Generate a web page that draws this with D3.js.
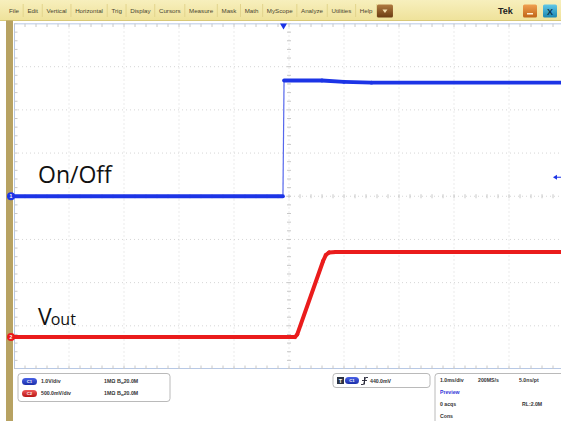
<!DOCTYPE html>
<html>
<head>
<meta charset="utf-8">
<script src="https://cdn.jsdelivr.net/npm/d3@7"></script>
<style>
body { margin: 0; background: #fff; }
svg { display: block; font-family: "Liberation Sans", Arial, sans-serif; }
.menuText { font-size: 6.2px; fill: #4a4530; }
.tekText { font-size: 9px; font-weight: bold; fill: #222; }
.grid { stroke: #d6d6d6; stroke-width: 1; stroke-dasharray: 1,3; }
.tick { stroke: #c8c8c8; stroke-width: 1; }
.label { font-family: "Open Sans", sans-serif; fill: #111; }
.info { font-size: 5.2px; font-weight: bold; }
.panel { fill: #fff; stroke: #a8a8a8; stroke-width: 0.8; }
</style>
</head>
<body>
<div id="scope"></div>
<script>
// menu bar entries
var menuItems = ["File", "Edit", "Vertical", "Horizontal", "Trig", "Display", "Cursors",
    "Measure", "Mask", "Math", "MyScope", "Analyze", "Utilities", "Help"];

// waveform samples: time in ms, level in volts
var ch1Time  = [-5, -0.11, -0.09, 0.6, 1.0, 1.5, 5];
var ch1Volts = [0, 0, 2.68, 2.68, 2.65, 2.63, 2.63];
var ch2Time  = [-5, 0.11, 0.15, 0.62, 0.67, 0.73, 0.85, 5];
var ch2Volts = [0, 0, 0.03, 0.88, 0.95, 0.98, 0.985, 0.985];

// channel settings
var channelNames = ["On/Off", "Vout"];
var channelColors = ["#1c34e6", "#ea1c1c"];
var channelVoltsPerDiv = [1.0, 0.5];
var channelOffsetDiv = [0, -3.26];
var channelScaleText = ["1.0V/div", "500.0mV/div"];
var channelImpedance = ["1MΩ", "1MΩ"];
var channelBandwidth = ["20.0M", "20.0M"];

// timebase / trigger
var msPerDiv = 1.0;
var triggerTime = -0.1;
var triggerLevel = 0.44;
var triggerText = "440.0mV";
var acqRows = [["1.0ms/div", "200MS/s", "5.0ns/pt"], ["Preview"], ["0 acqs", "RL:2.0M"], ["Cons"]];

function ScopeChart() {
    var self = this;
    self.init();
}

ScopeChart.prototype.init = function () {
    var self = this;
    self.width = 561;
    self.height = 421;
    self.plot = {left: 14, right: 564, top: 23.5, bottom: 369};

    self.svg = d3.select("#scope").append("svg")
        .attr("width", self.width)
        .attr("height", self.height);

    // scales in screen divisions
    self.xDiv = d3.scaleLinear().domain([-5, 5]).range([self.plot.left, self.plot.right]);
    self.yDiv = d3.scaleLinear().domain([-4, 4]).range([self.plot.bottom, self.plot.top]);
};

ScopeChart.prototype.drawMenu = function () {
    var self = this;
    var defs = self.svg.append("defs");
    var g1 = defs.append("linearGradient").attr("id", "menuGrad").attr("x1", 0).attr("x2", 0).attr("y1", 0).attr("y2", 1);
    g1.append("stop").attr("offset", 0).attr("stop-color", "#f7efbd");
    g1.append("stop").attr("offset", 1).attr("stop-color", "#efe29a");
    [["brownGrad", "#b07a40", "#6b3c12"], ["orangeGrad", "#f0a050", "#c06418"], ["tealGrad", "#60c8e8", "#1c86b0"],
     ["blueGrad", "#4a62e8", "#1a2ea8"], ["redGrad", "#f05a5a", "#b81414"]].forEach(function (c) {
        var g = defs.append("linearGradient").attr("id", c[0]).attr("x1", 0).attr("x2", 0).attr("y1", 0).attr("y2", 1);
        g.append("stop").attr("offset", 0).attr("stop-color", c[1]);
        g.append("stop").attr("offset", 1).attr("stop-color", c[2]);
    });
    defs.append("clipPath").attr("id", "plotClip").append("rect")
        .attr("x", self.plot.left).attr("y", self.plot.top)
        .attr("width", self.width - self.plot.left).attr("height", self.plot.bottom - self.plot.top);

    self.svg.append("rect").attr("x", 0).attr("y", 0).attr("width", self.width).attr("height", 20.5)
        .attr("fill", "url(#menuGrad)");
    self.svg.append("line").attr("x1", 0).attr("x2", self.width).attr("y1", 20.5).attr("y2", 20.5)
        .attr("stroke", "#d8c878");

    // menu items laid out one after another
    var x = 9;
    var menu = self.svg.append("g");
    menuItems.forEach(function (name) {
        var t = menu.append("text").attr("class", "menuText").attr("x", x).attr("y", 12.5).text(name);
        var w = t.node().getComputedTextLength();
        menu.append("line").attr("x1", x + w + 4.2).attr("x2", x + w + 4.2).attr("y1", 4).attr("y2", 17)
            .attr("stroke", "#e2d48c");
        x += w + 8.4;
    });
    // help drop button
    x = x - 4;
    menu.append("rect").attr("x", x).attr("y", 4.5).attr("width", 16).attr("height", 13).attr("rx", 1.5)
        .attr("fill", "url(#brownGrad)");
    menu.append("path").attr("d", "M" + (x + 5.5) + ",9.5 l5,0 l-2.5,3.5z").attr("fill", "#f4e0b0");

    self.svg.append("text").attr("class", "tekText").attr("x", 498).attr("y", 14).text("Tek");
    self.svg.append("rect").attr("x", 523).attr("y", 4.5).attr("width", 14).attr("height", 13).attr("rx", 1.5)
        .attr("fill", "url(#orangeGrad)");
    self.svg.append("rect").attr("x", 527).attr("y", 13).attr("width", 6).attr("height", 1.5).attr("fill", "#fff2d8");
    self.svg.append("rect").attr("x", 543).attr("y", 4.5).attr("width", 14).attr("height", 13).attr("rx", 1.5)
        .attr("fill", "url(#tealGrad)");
    self.svg.append("text").attr("x", 550).attr("y", 14.5).attr("text-anchor", "middle")
        .attr("font-size", 9).attr("font-weight", "bold").attr("fill", "#0b3550").text("X");
};

ScopeChart.prototype.drawGraticule = function () {
    var self = this;
    var p = self.plot;

    // tan strip at left
    self.svg.append("rect").attr("x", 6).attr("y", 20.5).attr("width", 7).attr("height", self.height - 20.5)
        .attr("fill", "#b7a262");

    var g = self.svg.append("g").attr("clip-path", "url(#plotClip)");
    g.append("rect").attr("x", p.left).attr("y", p.top).attr("width", p.right - p.left).attr("height", p.bottom - p.top)
        .attr("fill", "#fff").attr("stroke", "#9fb6dc").attr("stroke-width", 1.5);

    g.selectAll("line.vgrid").data(d3.range(-4, 5)).enter().append("line").attr("class", "grid")
        .attr("x1", function (d) { return self.xDiv(d); }).attr("x2", function (d) { return self.xDiv(d); })
        .attr("y1", p.top).attr("y2", p.bottom);
    g.selectAll("line.hgrid").data(d3.range(-3, 4)).enter().append("line").attr("class", "grid")
        .attr("y1", function (d) { return self.yDiv(d); }).attr("y2", function (d) { return self.yDiv(d); })
        .attr("x1", p.left).attr("x2", p.right);

    // minor ticks on centre lines and along the edges (5 per division)
    var xm = d3.range(-5, 5.01, 0.2), ym = d3.range(-4, 4.01, 0.2);
    xm.forEach(function (d) {
        var x = self.xDiv(d);
        g.append("line").attr("class", "tick").attr("x1", x).attr("x2", x).attr("y1", self.yDiv(0) - 2).attr("y2", self.yDiv(0) + 2);
        g.append("line").attr("class", "tick").attr("x1", x).attr("x2", x).attr("y1", p.top).attr("y2", p.top + 3.5);
        g.append("line").attr("class", "tick").attr("x1", x).attr("x2", x).attr("y1", p.bottom - 3.5).attr("y2", p.bottom);
    });
    ym.forEach(function (d) {
        var y = self.yDiv(d);
        g.append("line").attr("class", "tick").attr("y1", y).attr("y2", y).attr("x1", self.xDiv(0) - 2).attr("x2", self.xDiv(0) + 2);
        g.append("line").attr("class", "tick").attr("y1", y).attr("y2", y).attr("x1", p.left).attr("x2", p.left + 3.5);
    });
    self.gPlot = g;
};

ScopeChart.prototype.drawTraces = function () {
    var self = this;
    var traces = [
        {t: ch1Time, v: ch1Volts, ch: 0},
        {t: ch2Time, v: ch2Volts, ch: 1}
    ];
    traces.forEach(function (tr) {
        var pts = tr.t.map(function (t, i) {
            return [self.xDiv(t / msPerDiv),
                    self.yDiv(tr.v[i] / channelVoltsPerDiv[tr.ch] + channelOffsetDiv[tr.ch])];
        });
        // fast edges are drawn thin, slow parts thick like the persistence display
        d3.pairs(pts).forEach(function (seg) {
            var dx = Math.abs(seg[1][0] - seg[0][0]), dy = Math.abs(seg[1][1] - seg[0][1]);
            var steep = dy > 20 && dx < 3;
            self.gPlot.append("path").attr("d", d3.line()(seg))
                .attr("fill", "none").attr("stroke", channelColors[tr.ch])
                .attr("stroke-width", steep ? 1.2 : (tr.ch === 0 ? 3.8 : 4))
                .attr("stroke-linecap", steep ? "butt" : "round")
                .attr("stroke-linejoin", "round")
                .attr("opacity", steep ? 0.75 : 1);
        });

        // ground marker at left
        var gy = self.yDiv(channelOffsetDiv[tr.ch]);
        self.svg.append("circle").attr("cx", 11).attr("cy", gy).attr("r", 4)
            .attr("fill", channelColors[tr.ch]);
        self.svg.append("text").attr("x", 11).attr("y", gy + 1.8).attr("text-anchor", "middle")
            .attr("font-size", 5).attr("font-weight", "bold").attr("fill", "#fff").text(tr.ch + 1);
    });

    // trace names
    var y0 = self.yDiv(channelOffsetDiv[0]) - 13;
    self.svg.append("text").attr("class", "label").attr("x", 38).attr("y", y0)
        .attr("font-size", 23).text(channelNames[0]);
    var y1 = self.yDiv(channelOffsetDiv[1]) - 12;
    var lab = self.svg.append("text").attr("class", "label").attr("x", 38).attr("y", y1);
    lab.append("tspan").attr("font-size", 23).text(channelNames[1].charAt(0));
    lab.append("tspan").attr("font-size", 16).attr("dx", -1).text(channelNames[1].slice(1));

    // trigger position (top) and trigger level (right)
    var tx = self.xDiv(triggerTime / msPerDiv);
    self.svg.append("path").attr("d", "M" + (tx - 3.5) + "," + 23.5 + " l7,0 l-3.5,6z").attr("fill", channelColors[0]);
    var ty = self.yDiv(triggerLevel / channelVoltsPerDiv[0] + channelOffsetDiv[0]);
    self.svg.append("path").attr("d", "M553," + ty + " l4,-2.5 l0,5z").attr("fill", channelColors[0]);
    self.svg.append("line").attr("x1", 557).attr("x2", 561).attr("y1", ty).attr("y2", ty)
        .attr("stroke", channelColors[0]).attr("stroke-width", 1);
};

ScopeChart.prototype.drawStatus = function () {
    var self = this;
    var s = self.svg.append("g");
    var pills = ["blueGrad", "redGrad"];

    // vertical settings panel
    s.append("rect").attr("class", "panel").attr("x", 18).attr("y", 373.5).attr("width", 152).attr("height", 28).attr("rx", 3);
    channelScaleText.forEach(function (txt, i) {
        var y = 381.5 + i * 12;
        s.append("rect").attr("x", 22).attr("y", y - 3.5).attr("width", 15).attr("height", 7).attr("rx", 3.5)
            .attr("fill", "url(#" + pills[i] + ")");
        s.append("text").attr("x", 29.5).attr("y", y + 1.6).attr("text-anchor", "middle").attr("font-size", 4.2)
            .attr("fill", "#fff").attr("font-weight", "bold").text("C" + (i + 1));
        s.append("text").attr("class", "info").style("fill", "#333").attr("x", 41).attr("y", y + 1.8).text(txt);
        s.append("text").attr("class", "info").style("fill", "#333").attr("x", 104).attr("y", y + 1.8).text(channelImpedance[i]);
        var bw = s.append("text").attr("class", "info").style("fill", "#333").attr("x", 117).attr("y", y + 1.8);
        bw.append("tspan").attr("font-size", 5.5).text("B");
        bw.append("tspan").attr("font-size", 3.5).attr("dy", 1).text("w");
        bw.append("tspan").attr("dy", -1).text(channelBandwidth[i]);
    });

    // trigger panel
    s.append("rect").attr("class", "panel").attr("x", 333).attr("y", 373.5).attr("width", 97).attr("height", 14).attr("rx", 3);
    s.append("rect").attr("x", 337).attr("y", 377).attr("width", 7).attr("height", 7).attr("fill", "#2c3444");
    s.append("text").attr("x", 340.5).attr("y", 382.6).attr("text-anchor", "middle").attr("font-size", 5.5)
        .attr("font-weight", "bold").attr("fill", "#fff").text("T");
    s.append("rect").attr("x", 345).attr("y", 377).attr("width", 14).attr("height", 7).attr("rx", 3.5).attr("fill", "url(#blueGrad)");
    s.append("text").attr("x", 352).attr("y", 382.2).attr("text-anchor", "middle").attr("font-size", 4.2)
        .attr("fill", "#fff").attr("font-weight", "bold").text("C1");
    s.append("path").attr("d", "M361,384.5 l2.5,0 l2,-7 l2.5,0 M364.5,377 l0,7.5 M362,380.5 l5,0")
        .attr("fill", "none").attr("stroke", "#223").attr("stroke-width", 0.9);
    s.append("text").attr("class", "info").style("fill", "#333").attr("x", 370).attr("y", 382.6).text(triggerText);

    // acquisition panel
    s.append("rect").attr("class", "panel").attr("x", 435).attr("y", 373.5).attr("width", 140).attr("height", 60).attr("rx", 3);
    var rowX = [[440, 478, 519], [440], [440, 522], [440]];
    acqRows.forEach(function (row, r) {
        row.forEach(function (txt, c) {
            s.append("text").attr("class", "info").attr("x", rowX[r][c]).attr("y", 382 + r * 12)
                .style("fill", r === 1 ? "#3434d8" : "#333").text(txt);
        });
    });
};

var chart = new ScopeChart();
chart.drawMenu();
chart.drawGraticule();
chart.drawTraces();
chart.drawStatus();
</script>
</body>
</html>
